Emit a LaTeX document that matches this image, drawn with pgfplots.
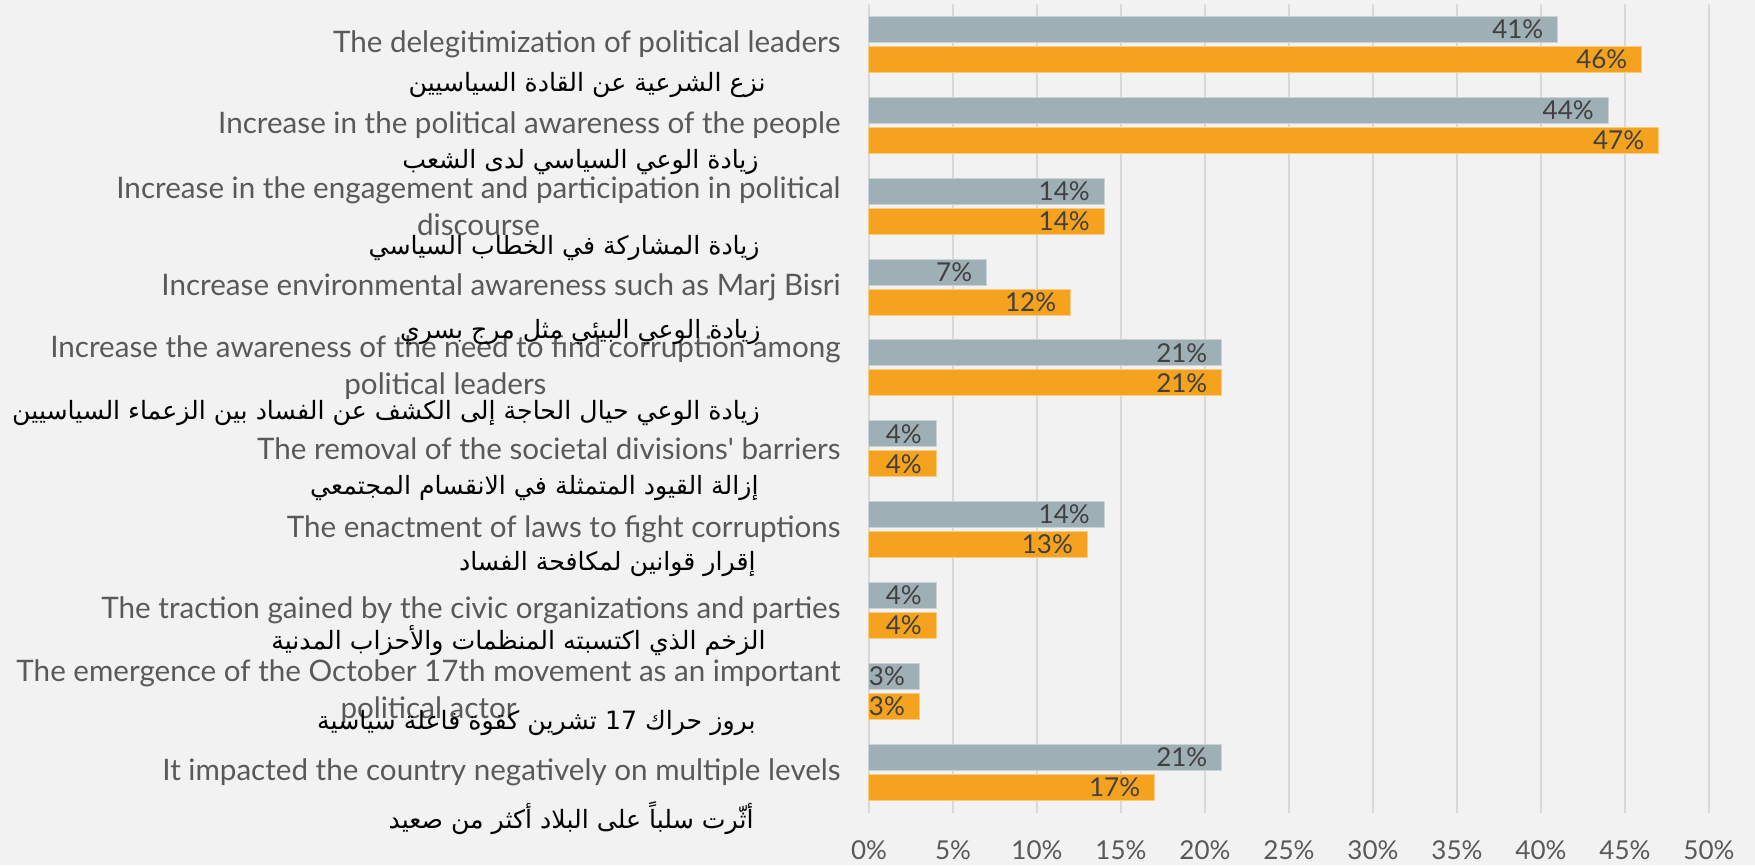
\documentclass[border=0pt]{standalone}
\usepackage{pgfplots}
\usepackage{pgfplotstable}
\pgfplotsset{compat=1.18}
\usepackage{fontspec}
\setmainfont{Lato}
\newfontfamily\arabicfont[Script=Arabic]{DejaVu Sans}
\TeXXeTstate=1
\usetikzlibrary{backgrounds}

\definecolor{bgc}{HTML}{F2F2F2}
\definecolor{grayc}{HTML}{9EAFB5}
\definecolor{orangec}{HTML}{F5A31E}
\definecolor{gridc}{HTML}{D9D9D9}
\definecolor{labc}{HTML}{595959}
\definecolor{valc}{HTML}{404040}

\newcommand\eng{\fontsize{14.8}{18.5}\selectfont}
\newcommand\num{\fontsize{13}{15}\selectfont}
\newcommand\ar[1]{{\arabicfont\fontsize{12.6}{14}\selectfont\beginR #1\endR}}

% y: 10 = top category, 1 = bottom
\pgfplotstableread{
y  a  b
10 41 46
9  44 47
8  14 14
7  7  12
6  21 21
5  4  4
4  14 13
3  4  4
2  3  3
1  21 17
}\datatab

\begin{document}
\begin{tikzpicture}
\begin{axis}[
  name=ax, at={(0,0)}, anchor=south west,
  scale only axis, width=420pt, height=404.3pt,
  xbar, bar width=13pt,
  xmin=0, xmax=50, ymin=0.5, ymax=10.5,
  xtick={0,5,...,50},
  xticklabels={0\%,5\%,10\%,15\%,20\%,25\%,30\%,35\%,40\%,45\%,50\%},
  ytick=\empty,
  axis line style={draw=none},
  tick style={draw=none},
  xmajorgrids,
  grid style={gridc, line width=1pt},
  xticklabel style={font=\num, text=labc, anchor=center, yshift=-18.7pt},
  /pgf/number format/assume math mode=true,
  point meta=x,
  nodes near coords={\pgfmathprintnumber{\pgfplotspointmeta}\%},
  nodes near coords align={anchor=east},
  nodes near coords style={anchor=east, xshift=-7pt, inner sep=0pt, font=\num, text=valc},
  clip=false,
]
\addplot[fill=grayc, draw=grayc!55!white, line width=0.5pt, bar shift=7.5pt]
  table[x=a, y=y]{\datatab};
\addplot[fill=orangec, draw=orangec!55!white, line width=0.5pt, bar shift=-7.5pt]
  table[x=b, y=y]{\datatab};

\begin{scope}[every node/.style={anchor=east, align=center, text=labc, font=\eng, inner sep=0pt}]
\node[xshift=-14pt] at (axis cs:0,10) {The delegitimization of political leaders};
\node[xshift=-14pt] at (axis cs:0,9) {Increase in the political awareness of the people};
\node[xshift=-14pt] at (axis cs:0,8) {Increase in the engagement and participation in political\\discourse};
\node[xshift=-14pt] at (axis cs:0,7) {Increase environmental awareness such as Marj Bisri};
\node[xshift=-14pt] at (axis cs:0,6) {Increase the awareness of the need to find corruption among\\political leaders};
\node[xshift=-14pt] at (axis cs:0,5) {The removal of the societal divisions\textquotesingle{} barriers};
\node[xshift=-14pt] at (axis cs:0,4) {The enactment of laws to fight corruptions};
\node[xshift=-14pt] at (axis cs:0,3) {The traction gained by the civic organizations and parties};
\node[xshift=-14pt] at (axis cs:0,2) {The emergence of the October 17th movement as an important\\political actor};
\node[xshift=-14pt] at (axis cs:0,1) {It impacted the country negatively on multiple levels};
\end{scope}

\begin{scope}[every node/.style={anchor=east, text=black, inner sep=0pt}]
\node[xshift=-51.5pt, yshift=-20.25pt] at (axis cs:0,10) {\ar{نزع الشرعية عن  القادة السياسيين}};
\node[xshift=-55pt, yshift=-18.5pt] at (axis cs:0,9) {\ar{زيادة الوعي السياسي لدى الشعب}};
\node[xshift=-54.5pt, yshift=-21pt] at (axis cs:0,8) {\ar{زيادة المشاركة في الخطاب السياسي}};
\node[xshift=-54pt, yshift=-22.5pt] at (axis cs:0,7) {\ar{زيادة الوعي البيئي مثل مرج بسري}};
\node[xshift=-54.5pt, yshift=-22.5pt] at (axis cs:0,6) {\ar{زيادة الوعي حيال الحاجة إلى الكشف عن الفساد بين الزعماء السياسيين}};
\node[xshift=-55pt, yshift=-19.75pt] at (axis cs:0,5) {\ar{إزالة القيود المتمثلة في الانقسام المجتمعي}};
\node[xshift=-56.5pt, yshift=-17pt] at (axis cs:0,4) {\ar{إقرار قوانين لمكافحة الفساد}};
\node[xshift=-51.5pt, yshift=-15pt] at (axis cs:0,3) {\ar{الزخم الذي اكتسبته المنظمات والأحزاب  المدنية}};
\node[xshift=-56.5pt, yshift=-16pt] at (axis cs:0,2) {\ar{بروز حراك \beginL17\endL{} تشرين كقوة فاعلة سياسية}};
\node[xshift=-57.5pt, yshift=-23pt] at (axis cs:0,1) {\ar{أثّرت سلباً على البلاد أكثر من صعيد}};
\end{scope}
\end{axis}
\begin{scope}[on background layer]
\fill[bgc] ([xshift=-434.5pt, yshift=-26.2pt]ax.south west) rectangle ([xshift=23pt, yshift=2pt]ax.north east);
\end{scope}
\end{tikzpicture}
\end{document}
